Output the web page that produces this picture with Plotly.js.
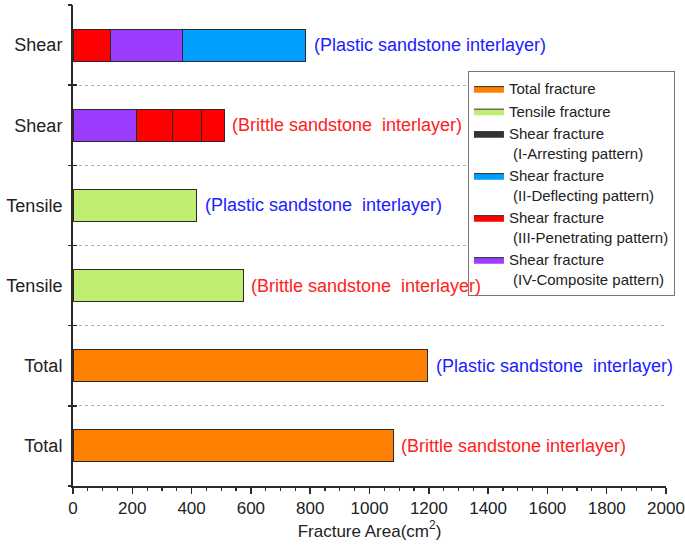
<!DOCTYPE html>
<html>
<head>
<meta charset="utf-8">
<script src="https://cdn.plot.ly/plotly-3.0.1.min.js"></script>
<style>html,body{margin:0;padding:0;background:#fff}</style>
</head>
<body>
<div id="chart" style="width:685px;height:551px"></div>
<script>
// rows listed bottom to top
const rowLabels = ['Total', 'Total', 'Tensile', 'Tensile', 'Shear', 'Shear'];
const rowInterlayer = ['Brittle', 'Plastic', 'Brittle', 'Plastic', 'Brittle', 'Plastic'];
const rowNotes = [
  '(Brittle sandstone interlayer)',
  '(Plastic sandstone  interlayer)',
  '(Brittle sandstone  interlayer)',
  '(Plastic sandstone  interlayer)',
  '(Brittle sandstone  interlayer)',
  '(Plastic sandstone interlayer)'
];

const totalArea   = [1080, 1196, null, null, null, null];
const tensileArea = [null, null, 575, 417, null, null];
// shear segments, stacked left to right in this order
const shearPenetratingA = [null, null, null, null, null, 125];
const shearComposite    = [null, null, null, null, 215, 245];
const shearDeflecting   = [null, null, null, null, null, 415];
const shearPenetratingB = [null, null, null, null, 120, null];
const shearPenetratingC = [null, null, null, null, 100, null];
const shearPenetratingD = [null, null, null, null, 75, null];

const legendNames = {
  total: 'Total fracture',
  tensile: 'Tensile fracture',
  I: 'Shear fracture<br> (I-Arresting pattern)',
  II: 'Shear fracture<br> (II-Deflecting pattern)',
  III: 'Shear fracture<br> (III-Penetrating pattern)',
  IV: 'Shear fracture<br> (IV-Composite pattern)'
};
const colors = {
  total: '#ff8000', tensile: '#c0ee70', I: '#333333',
  II: '#009fff', III: '#ff0000', IV: '#9b3cff'
};
const noteColors = { Brittle: '#ff2020', Plastic: '#2020ff' };

const rowPos = rowLabels.map((_, i) => i);
const edge = '#2a2a2a';

const bar = (vals, key) => ({
  type: 'bar', orientation: 'h', x: vals, y: rowPos,
  marker: { color: colors[key], line: { color: edge, width: 1 } },
  showlegend: false, hoverinfo: 'x'
});

const bars = [
  bar(totalArea, 'total'),
  bar(tensileArea, 'tensile'),
  bar(shearPenetratingA, 'III'),
  bar(shearComposite, 'IV'),
  bar(shearDeflecting, 'II'),
  bar(shearPenetratingB, 'III'),
  bar(shearPenetratingC, 'III'),
  bar(shearPenetratingD, 'III')
];

// legend-only swatches
const legendKeys = ['total', 'tensile', 'I', 'II', 'III', 'IV'];
const legendTraces = legendKeys.map(k => ({
  type: 'scatter', mode: 'lines', x: [null], y: [null],
  fill: 'toself', fillcolor: colors[k], line: { color: edge, width: 1 },
  name: legendNames[k], hoverinfo: 'skip'
}));

// helper traces so the overlay axes (boundary ticks + grid) get drawn
const axisHelpers = ['y2', 'y3'].map(ax => ({
  type: 'scatter', x: [], y: [], yaxis: ax, showlegend: false, hoverinfo: 'skip'
}));

const rowEnd = rowPos.map(i =>
  [totalArea, tensileArea, shearPenetratingA, shearComposite, shearDeflecting,
   shearPenetratingB, shearPenetratingC, shearPenetratingD]
    .reduce((s, arr) => s + (arr[i] || 0), 0));

const annotations = rowPos.map(i => ({
  x: rowEnd[i], y: i, xref: 'x', yref: 'y',
  text: rowNotes[i].replace(/  /g, ' \u00a0'),
  showarrow: false, xanchor: 'left', yanchor: 'middle', xshift: 6,
  font: { size: 18, color: noteColors[rowInterlayer[i]] }
}));

const boundaries = [...rowPos.map(i => i - 0.5), rowPos.length - 0.5];
const yRange = [-0.5, rowPos.length - 0.5];

Plotly.newPlot('chart', [...bars, ...legendTraces, ...axisHelpers], {
  width: 685, height: 551,
  margin: { l: 73, r: 19, t: 5, b: 65 },
  paper_bgcolor: '#fff', plot_bgcolor: '#fff',
  font: { family: 'Liberation Sans, Arial, sans-serif', color: '#222' },
  barmode: 'stack', bargap: 0.6,
  xaxis: {
    range: [0, 2000], dtick: 200, tick0: 0,
    ticks: 'outside', ticklen: 6, tickwidth: 1.5, tickcolor: edge,
    minor: { dtick: 50, ticks: 'outside', ticklen: 3, tickwidth: 1.2, tickcolor: edge, showgrid: false },
    showline: true, linewidth: 2, linecolor: edge,
    showgrid: false, zeroline: false,
    tickfont: { size: 17 },
    title: { text: 'Fracture Area(cm<sup>2</sup>)', font: { size: 17 }, standoff: 4 }
  },
  yaxis: {
    range: yRange, tickmode: 'array', tickvals: rowPos, ticktext: rowLabels,
    ticks: '', showline: true, linewidth: 2, linecolor: edge,
    showgrid: false, zeroline: false, tickfont: { size: 18 }, ticklabelstandoff: 5
  },
  yaxis2: {
    overlaying: 'y', side: 'left', range: yRange, tickmode: 'array', tickvals: boundaries,
    ticks: 'outside', ticklen: 4, tickwidth: 1.5, tickcolor: edge,
    showticklabels: false, showgrid: true, griddash: 'dot', gridcolor: '#b0b0b0', gridwidth: 1,
    showline: false, zeroline: false
  },
  yaxis3: {
    overlaying: 'y', side: 'left', range: yRange, tickmode: 'array', tickvals: boundaries,
    ticks: 'inside', ticklen: 4, tickwidth: 1.5, tickcolor: edge,
    showticklabels: false, showgrid: false, showline: false, zeroline: false
  },
  legend: {
    x: 0.666, y: 0.862, xanchor: 'left', yanchor: 'top', traceorder: 'normal',
    bgcolor: '#fff', bordercolor: '#777', borderwidth: 1,
    font: { size: 15, color: '#222' }, valign: 'top', tracegroupgap: 0
  },
  annotations: annotations
}, { displayModeBar: false, staticPlot: true });
</script>
</body>
</html>
